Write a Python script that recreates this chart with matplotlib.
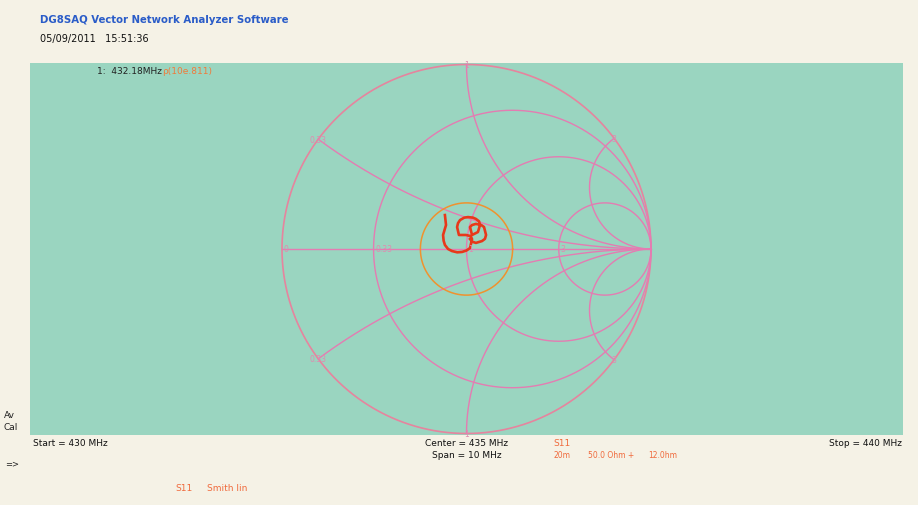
import numpy as np
import matplotlib
matplotlib.use("Agg")
import matplotlib.pyplot as plt

# ---- data ----
title_text = "DG8SAQ Vector Network Analyzer Software"
date_text = "05/09/2011   15:51:36"
marker_freq = "1:  432.18MHz"
marker_value = "ρ(10e.811)"
start_label = "Start = 430 MHz"
center_label = "Center = 435 MHz"
span_label = "Span = 10 MHz"
stop_label = "Stop = 440 MHz"

r_circles = [0.33, 1.0, 3.0]
x_arcs = [0.33, 1.0, 3.0]
grid_labels = ["0", "0.33", "1", "3"]
vswr_radius = 0.25

s11_re = [-0.117, -0.111, -0.127, -0.124, -0.117, -0.100, -0.079, -0.050, -0.024, 0.000,
          0.019, 0.030, 0.022, -0.003, -0.041, -0.051, -0.046, -0.035, -0.012, 0.008,
          0.035, 0.051, 0.068, 0.073, 0.062, 0.030, 0.019, 0.030, 0.051, 0.080,
          0.095, 0.106, 0.100, 0.084, 0.051, 0.030, 0.019]
s11_im = [0.184, 0.130, 0.076, 0.045, 0.022, 0.000, -0.011, -0.018, -0.016, -0.008,
          0.005, 0.054, 0.070, 0.076, 0.076, 0.119, 0.140, 0.157, 0.170, 0.173,
          0.170, 0.163, 0.150, 0.130, 0.092, 0.076, 0.119, 0.130, 0.136, 0.130,
          0.119, 0.076, 0.055, 0.043, 0.033, 0.040, 0.054]

W, H = 918, 506
fig = plt.figure(figsize=(W / 100, H / 100), dpi=100)
fig.patch.set_facecolor("#f5f2e6")

# plot area in pixels
x0, x1, y0, y1 = 30, 903, 64, 436
cx, cy, R = 466.5, 250, 184.5
ax = fig.add_axes([x0 / W, 1 - y1 / H, (x1 - x0) / W, (y1 - y0) / H])
ax.set_facecolor("#9ad5c0")
ax.set_xlim((x0 - cx) / R, (x1 - cx) / R)
ax.set_ylim((cy - y1) / R, (cy - y0) / R)
for s in ax.spines.values():
    s.set_visible(False)
ax.set_xticks([]); ax.set_yticks([])

grid_col = "#e47cb2"
lw = 1.0
t = np.linspace(0, 2 * np.pi, 721)
# outer circle
ax.plot(np.cos(t), np.sin(t), color="#e6849e", lw=1.2)
# horizontal axis
ax.plot([-1, 1], [0, 0], color=grid_col, lw=lw)
# constant resistance circles
for r in r_circles:
    c = r / (1 + r); rad = 1 / (1 + r)
    ax.plot(c + rad * np.cos(t), rad * np.sin(t), color=grid_col, lw=lw)
# constant reactance arcs
rr = np.concatenate([[0], np.logspace(-3, 4, 800)])
for xv in x_arcs:
    for sgn in (1, -1):
        z = rr + 1j * sgn * xv
        g = (z - 1) / (z + 1)
        ax.plot(g.real, g.imag, color=grid_col, lw=lw)

# grid labels
lab_col = "#e08ab0"
fs_lab = 5.5
for lab, r in zip(grid_labels, [0.0] + r_circles):
    gx = (r - 1) / (r + 1)
    ax.text(gx + 0.01, 0.0, lab, color=lab_col, fontsize=fs_lab, ha="left", va="center")
for lab, xv in zip(grid_labels[1:], x_arcs):
    g = (1j * xv - 1) / (1j * xv + 1)
    for sgn in (1, -1):
        ax.text(g.real, sgn * g.imag, lab, color=lab_col, fontsize=fs_lab,
                ha="center", va="center")

# VSWR circle
ax.plot(vswr_radius * np.cos(t), vswr_radius * np.sin(t), color="#f0922e", lw=1.1)
# S11 trace
ax.plot(s11_re, s11_im, color="#e8381a", lw=1.9, solid_joinstyle="round")

def ftext(px, py, s, **kw):
    fig.text(px / W, 1 - py / H, s, **kw)

ftext(97, 72, marker_freq, fontsize=6.5, color="#222222", va="center")
ftext(162, 72, marker_value, fontsize=6.5, color="#f07a3a", va="center")

# header
ftext(40, 20, title_text, fontsize=7.3, color="#2a5cc8", fontweight="bold", va="center")
ftext(40, 39, date_text, fontsize=7, color="#111111", va="center")

# bottom texts
ftext(4, 416, "Av", fontsize=6.5, color="#222222", va="center")
ftext(4, 428, "Cal", fontsize=6.5, color="#222222", va="center")
ftext(5, 464, "=>", fontsize=6, color="#222222", va="center")
ftext(33, 444, start_label, fontsize=6.5, color="#111111", va="center")
ftext(467, 444, center_label, fontsize=6.5, color="#111111", va="center", ha="center")
ftext(467, 456, span_label, fontsize=6.5, color="#111111", va="center", ha="center")
ftext(902, 444, stop_label, fontsize=6.5, color="#111111", va="center", ha="right")

orange = "#f06a3c"
ftext(553, 443, "S11", fontsize=6.5, color=orange, va="center")
ftext(553, 456, "20m", fontsize=5.5, color=orange, va="center")
ftext(588, 456, "50.0 Ohm +", fontsize=5.5, color=orange, va="center")
ftext(648, 456, "12.0hm", fontsize=5.5, color=orange, va="center")
ftext(175, 489, "S11", fontsize=6.5, color=orange, va="center")
ftext(207, 489, "Smith lin", fontsize=6.5, color=orange, va="center")

fig.savefig("out.png", dpi=100, facecolor=fig.get_facecolor())
